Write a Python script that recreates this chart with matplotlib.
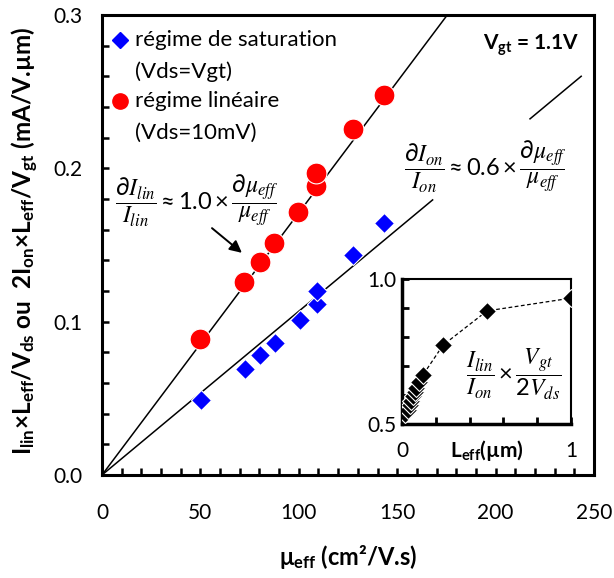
import matplotlib
matplotlib.use("Agg")
import matplotlib.pyplot as plt
from matplotlib.ticker import MultipleLocator, FormatStrFormatter

#Data
mu_sat = [50.2, 72.7, 80.4, 88.1, 100.6, 109.1, 109.1, 127.4, 143.4]
i_sat = [0.0487, 0.0689, 0.0785, 0.0859, 0.1011, 0.1115, 0.1200, 0.1435, 0.1646]
mu_lin = [49.8, 72.3, 80.3, 87.5, 99.7, 108.7, 108.7, 127.4, 143.4]
i_lin = [0.0885, 0.1258, 0.1388, 0.1511, 0.1714, 0.1885, 0.1968, 0.2255, 0.2479]

#Fitted lines through the origin
lin_slope = 0.00171
sat_slope = 0.001068
lin_fit_x = [0, 175.5]
sat_fit_x1 = [0, 168]
sat_fit_x2 = [217.5, 243.5]

#Inset: ratio vs effective length
l_eff = [0.02, 0.035, 0.045, 0.055, 0.065, 0.075, 0.085, 0.1, 0.124, 0.243, 0.503, 1.0]
ratio = [0.535, 0.55, 0.565, 0.58, 0.595, 0.61, 0.625, 0.645, 0.669, 0.772, 0.89, 0.934]

#Legend entries
legend_lines = ["régime de saturation", "(Vds=Vgt)", "régime linéaire", "(Vds=10mV)"]

plt.rcParams["font.family"] = ["Lato", "DejaVu Sans"]
plt.rcParams["mathtext.default"] = "regular"

fig = plt.figure(figsize=(6.14, 5.78), dpi=100)
ax = fig.add_axes([0.1661, 0.1782, 0.8013, 0.7958])

#Fit lines
ax.plot(lin_fit_x, [lin_slope * x for x in lin_fit_x], color="black", lw=1.1, zorder=2)
ax.plot(sat_fit_x1, [sat_slope * x for x in sat_fit_x1], color="black", lw=1.1, zorder=2)
ax.plot(sat_fit_x2, [sat_slope * x for x in sat_fit_x2], color="black", lw=1.1, zorder=2)

#Data points
ax.plot(mu_sat, i_sat, "D", color="#0000ff", ms=10.5, mec="white", mew=0.8, zorder=3)
ax.plot(mu_lin, i_lin, "o", color="#ff0000", ms=15, mec="white", mew=0.8, zorder=3)

ax.set_xlim(0, 250)
ax.set_ylim(0, 0.3)
ax.xaxis.set_major_locator(MultipleLocator(50))
ax.xaxis.set_minor_locator(MultipleLocator(10))
ax.yaxis.set_major_locator(MultipleLocator(0.1))
ax.yaxis.set_minor_locator(MultipleLocator(0.02))
ax.yaxis.set_major_formatter(FormatStrFormatter("%.1f"))
ax.tick_params(which="both", direction="in", length=5, width=1.8, labelsize=15, top=False, right=False)
ax.tick_params(axis="x", which="major", pad=20)
ax.tick_params(axis="y", which="major", pad=14)
for s in ax.spines.values():
    s.set_linewidth(2.2)

ax.set_xlabel("μ$_{eff}$ (cm²/V.s)", fontsize=17, fontweight="bold")
ax.xaxis.set_label_coords(0.5, -0.148)
ax.set_ylabel(r"I$_{lin}$×L$_{eff}$/V$_{ds}$ ou  2I$_{on}$×L$_{eff}$/V$_{gt}$ (mA/V.µm)",
              fontsize=17.5, fontweight="bold")
ax.yaxis.set_label_coords(-0.124, 0.509)

#Legend drawn by hand so the marker sits on the first line
ax.plot([0.036], [0.9457], "D", color="#0000ff", ms=8, transform=ax.transAxes, clip_on=False)
ax.plot([0.036], [0.8130], "o", color="#ff0000", ms=11, transform=ax.transAxes, clip_on=False)
for label, ypos in zip(legend_lines, [0.9457, 0.8761, 0.8130, 0.7435]):
    ax.text(0.067, ypos, label, transform=ax.transAxes, ha="left", va="center", fontsize=16)

ax.text(0.97, 0.935, r"V$_{gt}$ = 1.1V", transform=ax.transAxes, ha="right", va="center",
        fontsize=15, fontweight="bold")

#Equations
ax.text(48.3, 0.179, r"$\dfrac{\partial \mathit{I}_{\mathit{lin}}}{\mathit{I}_{\mathit{lin}}}\approx 1.0\times\dfrac{\partial \mathit{\mu}_{\mathit{eff}}}{\mathit{\mu}_{\mathit{eff}}}$",
        fontsize=17, math_fontfamily="stix", ha="center", va="center")
ax.text(195, 0.201, r"$\dfrac{\partial \mathit{I}_{\mathit{on}}}{\mathit{I}_{\mathit{on}}}\approx 0.6\times\dfrac{\partial \mathit{\mu}_{\mathit{eff}}}{\mathit{\mu}_{\mathit{eff}}}$",
        fontsize=17, math_fontfamily="stix", ha="center", va="center")
ax.annotate("", xy=(71.1, 0.1449), xytext=(55.9, 0.161),
            arrowprops=dict(arrowstyle="-|>", color="black", lw=1.4, mutation_scale=18,
                            shrinkA=0, shrinkB=0))

#Inset
ins = fig.add_axes([0.6547, 0.2664, 0.2752, 0.2509])
ins.plot(l_eff, ratio, "--", color="black", lw=0.9, dashes=(3, 2), zorder=2)
ins.plot(l_eff, ratio, "D", color="black", ms=9.5, mec="white", mew=0.8, zorder=3)
ins.set_xlim(0, 1)
ins.set_ylim(0.5, 1.0)
ins.set_xticks([0, 1])
ins.xaxis.set_minor_locator(MultipleLocator(0.2))
ins.set_yticks([0.5, 1.0])
ins.yaxis.set_major_formatter(FormatStrFormatter("%.1f"))
ins.yaxis.set_minor_locator(MultipleLocator(0.1))
ins.tick_params(which="both", direction="in", length=5, width=2, labelsize=15, top=False, right=False)
ins.tick_params(axis="x", which="major", pad=12)
ins.tick_params(axis="y", which="major", pad=4)
for side, s in ins.spines.items():
    s.set_linewidth(2.5 if side in ("left", "bottom") else 1.5)
ins.set_xlabel(r"L$_{eff}$(µm)", fontsize=15, fontweight="bold")
ins.xaxis.set_label_coords(0.5, -0.097)
ins.text(0.66, 0.67, r"$\dfrac{\mathit{I}_{\mathit{lin}}}{\mathit{I}_{\mathit{on}}}\times\dfrac{\mathit{V}_{\mathit{gt}}}{2\mathit{V}_{\mathit{ds}}}$",
         fontsize=17, math_fontfamily="stix", ha="center", va="center")

fig.savefig("out.png", dpi=100)
